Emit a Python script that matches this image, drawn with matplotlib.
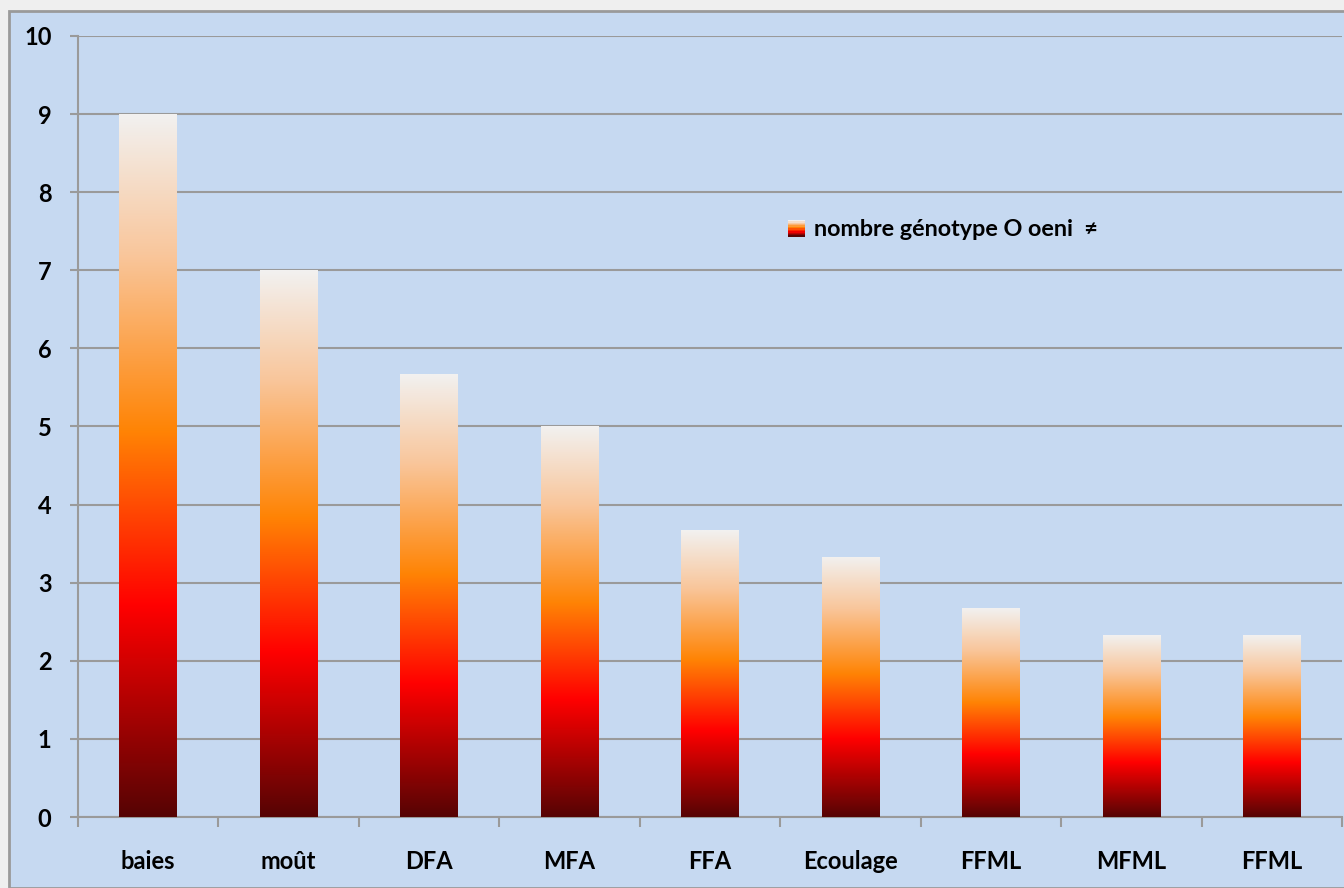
import numpy as np
import matplotlib
matplotlib.use('Agg')
import matplotlib.pyplot as plt
from matplotlib.colors import LinearSegmentedColormap
from matplotlib.patches import Rectangle
from matplotlib.legend_handler import HandlerBase

categories = ['baies', 'moût', 'DFA', 'MFA', 'FFA', 'Ecoulage', 'FFML', 'MFML', 'FFML']
values = [9, 7, 5.67, 5, 3.67, 3.33, 2.67, 2.33, 2.33]
label = 'nombre génotype O oeni  ≠'

plt.rcParams['font.family'] = ['Lato', 'DejaVu Sans']

bg = '#c6d9f1'
grid = '#9a9a9a'
grad = LinearSegmentedColormap.from_list('g', [
    (0.0, '#560404'), (0.3, '#ff0000'), (0.55, '#ff8405'),
    (0.8, '#f9c69b'), (1.0, '#f2f1f0')])


class GradHandler(HandlerBase):
    def create_artists(self, legend, orig, xd, yd, w, h, fontsize, trans):
        n = 12
        arts = []
        s = min(w, h) * 1.05
        x0 = xd + (w - s) / 2
        for i in range(n):
            r = Rectangle((x0, yd + s * i / n - (s - h) / 2), s, s / n,
                          facecolor=grad(i / (n - 1)), edgecolor='none',
                          transform=trans)
            arts.append(r)
        return arts


fig = plt.figure(figsize=(13.44, 8.88), dpi=100)
fig.patch.set_facecolor('#efefef')
panel = Rectangle((9 / 1344, 0), 1, (888 - 11) / 888, transform=fig.transFigure,
                  facecolor=bg, edgecolor='#9a9a9a', linewidth=2, zorder=-5)
fig.add_artist(panel)

ax = fig.add_axes([78 / 1344, 71 / 888, 1264 / 1344, 781 / 888])
ax.set_facecolor(bg)
x = np.arange(len(categories))
bars = ax.bar(x, values, width=0.41, color='none', edgecolor='none', zorder=3)
img = np.linspace(0, 1, 256).reshape(-1, 1)
for b in bars:
    x0, w, h = b.get_x(), b.get_width(), b.get_height()
    im = ax.imshow(img, cmap=grad, origin='lower', aspect='auto',
                   extent=[x0, x0 + w, 0, h], zorder=3)
    im.set_clip_path(b)

ax.set_xlim(-0.5, len(categories) - 0.5)
ax.set_ylim(0, 10)
ax.set_yticks(range(0, 11))
ax.yaxis.grid(True, color=grid, linewidth=1.5)
ax.set_axisbelow(True)
for s in ['top', 'right']:
    ax.spines[s].set_visible(False)
for s in ['left', 'bottom']:
    ax.spines[s].set_color(grid)
    ax.spines[s].set_linewidth(1.5)
ax.set_xticks(x)
ax.set_xticklabels(categories, fontsize=17, fontweight='bold')
ax.set_xticks(np.arange(-0.5, len(categories)), minor=True)
ax.tick_params(axis='x', which='major', length=0, pad=24)
ax.tick_params(axis='x', which='minor', length=7, width=1.5, color=grid)
ax.tick_params(axis='y', length=6, width=1.5, color=grid, pad=13, labelsize=17)
for t in ax.get_yticklabels():
    t.set_fontweight('bold')

proxy = Rectangle((0, 0), 1, 1)
ax.legend([proxy], [label], handler_map={Rectangle: GradHandler()},
          loc='upper left', bbox_to_anchor=(0.545, 0.792), frameon=False,
          prop={'size': 16.8, 'weight': 'bold'}, handlelength=0.75, handletextpad=0.35)

fig.savefig('out.png', dpi=100, facecolor=fig.get_facecolor())
